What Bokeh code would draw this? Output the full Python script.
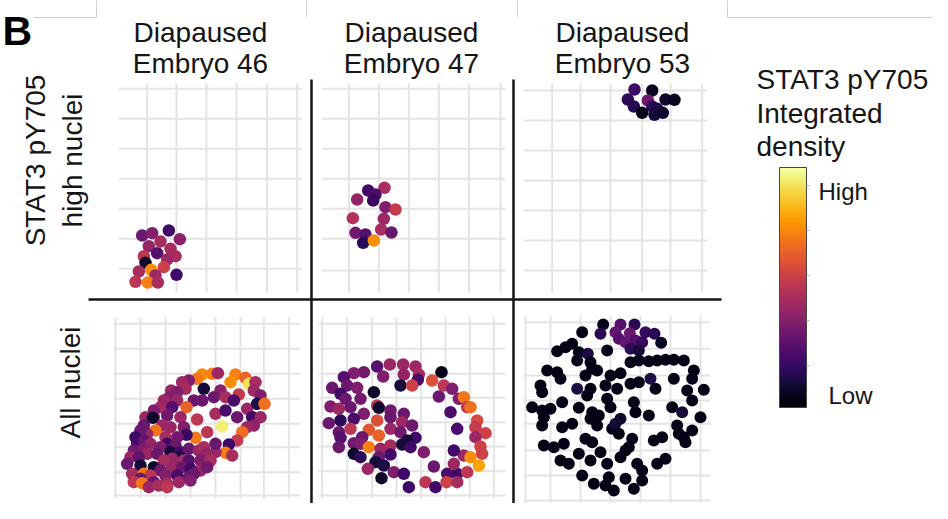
from bokeh.plotting import figure
from bokeh.models import Range1d, LinearColorMapper, ColorBar, FixedTicker, ColumnDataSource
from bokeh.palettes import Inferno256
from bokeh.core.properties import value
from bokeh.embed import file_html
from bokeh.resources import INLINE
import math

# ---------------- data (nucleus centroid positions in image coords, y down; v = normalised intensity) -------------
E46_HIGH = [(125,465,.30),(155,458,.36),(205,450,.20),(238,476,.38),(180,483,.45),(145,497,.40),(210,505,.45),
            (170,518,.25),(225,527,.45),(130,527,.50),(200,537,.42),(135,547,.08),(190,560,.55),(152,568,.75),
            (115,573,.45),(228,583,.20),(165,585,.42),(105,604,.50),(142,606,.72),(172,606,.45)]

E47_HIGH = [(173,330,.20),(222,322,.45),(195,342,.22),(140,357,.40),(188,360,.18),(225,380,.35),(255,387,.52),
            (127,413,.48),(220,415,.42),(212,447,.45),(243,456,.30),(135,457,.32),(165,462,.25),(158,487,.15),
            (190,480,.75)]

E53_HIGH = [(372,27,.20),(425,30,.06),(352,57,.15),(412,60,.32),(465,57,.08),(492,58,.06),(370,78,.14),
            (425,78,.16),(440,85,.12),(395,97,.05),(432,103,.10),(457,97,.08)]

E46_ALL = [(305,222,.75),(335,220,.72),(352,218,.42),(405,222,.72),(435,232,.65),(390,245,.75),(445,250,.92),
           (465,245,.45),(290,235,.70),(265,240,.35),(245,245,.42),(310,265,.10),(255,265,.45),(360,270,.38),
           (415,282,.52),(340,290,.30),(375,290,.45),(460,270,.42),(480,285,.35),(212,270,.42),(230,275,.35),
           (205,292,.35),(230,300,.42),(280,300,.30),(258,320,.65),(305,300,.30),(400,300,.22),(440,325,.42),
           (470,310,.12),(492,310,.68),(180,320,.45),(190,300,.42),(215,320,.25),(160,330,.35),(135,350,.42),
           (160,350,.42),(157,352,.08),(200,345,.32),(240,350,.42),(290,357,.50),(345,340,.45),(375,330,.22),
           (410,350,.30),(455,350,.20),(480,350,.42),(460,375,.38),(440,380,.42),(365,378,.95),(320,395,.50),
           (425,395,.68),(410,420,.52),(385,432,.20),(375,457,.72),(345,455,.42),(395,465,.45),(285,412,.70),
           (250,380,.35),(210,380,.42),(258,403,.18),(230,410,.32),(185,375,.42),(165,390,.70),(140,400,.42),
           (130,375,.30),(120,390,.30),(105,410,.20),(110,430,.20),(130,420,.28),(150,430,.40),(195,410,.45),
           (200,430,.20),(225,435,.30),(180,440,.35),(130,445,.35),(100,450,.32),(140,460,.42),(170,460,.30),
           (210,455,.10),(240,455,.20),(265,445,.30),(295,450,.42),(310,440,.45),(345,430,.30),(320,460,.40),
           (90,470,.42),(115,470,.28),(235,470,.12),(215,475,.42),(190,480,.45),(250,480,.45),(265,480,.25),
           (300,480,.35),(330,480,.45),(80,490,.30),(120,495,.10),(160,500,.08),(180,510,.32),(215,500,.42),
           (245,500,.30),(270,505,.20),(300,510,.40),(320,500,.32),(280,520,.30),(95,520,.45),(130,520,.70),
           (150,525,.50),(195,525,.35),(230,525,.22),(265,530,.30),(120,535,.30),(100,545,.50),(125,548,.70),
           (160,545,.30),(200,550,.45),(235,545,.42),(270,540,.35),(145,560,.42),(175,555,.45),(200,560,.50)]

E47_ALL = [(200,198,.25),(238,192,.42),(278,192,.42),(315,198,.42),(160,215,.32),(130,218,.35),(100,230,.25),
           (218,228,.35),(280,222,.40),(325,222,.45),(322,238,.22),(270,255,.10),(305,255,.55),(365,240,.60),
           (393,215,.05),(400,255,.50),(425,265,.35),(65,262,.30),(110,255,.30),(140,262,.35),(190,275,.08),
           (90,280,.20),(385,288,.30),(445,295,.35),(460,290,.70),(470,320,.50),(480,320,.68),(105,295,.30),
           (150,295,.32),(200,315,.50),(205,322,.08),(120,320,.30),(60,318,.35),(85,325,.42),(420,335,.22),
           (240,330,.32),(280,340,.30),(160,340,.35),(130,355,.22),(90,360,.15),(55,368,.30),(200,360,.60),
           (240,350,.30),(275,365,.42),(305,375,.30),(175,388,.62),(205,405,.65),(120,385,.50),(85,395,.30),
           (90,412,.25),(155,410,.30),(240,385,.42),(270,395,.32),(315,412,.20),(290,420,.10),(440,385,.22),
           (500,360,.58),(495,380,.52),(525,398,.55),(495,410,.42),(510,438,.55),(130,428,.32),(85,440,.30),
           (150,430,.35),(175,440,.72),(210,445,.42),(240,435,.45),(275,432,.10),(300,440,.20),(340,455,.35),
           (130,460,.08),(150,470,.15),(205,470,.30),(240,462,.20),(195,485,.10),(220,495,.12),(172,505,.42),
           (250,515,.35),(280,520,.20),(213,533,.08),(295,560,.20),(345,545,.50),(375,560,.20),(370,498,.30),
           (410,520,.22),(408,545,.55),(440,520,.20),(430,490,.42),(470,515,.50),(460,465,.42),(430,450,.20),
           (480,470,.75),(515,460,.55),(505,495,.80),(440,545,.45)]

E53_ALL = [(278,72,.05),(330,72,.25),(372,72,.15),(215,95,.04),(270,100,.15),(315,95,.28),(358,98,.30),
           (405,95,.18),(432,100,.15),(325,115,.25),(345,125,.28),(375,120,.25),(395,125,.18),(452,127,.06),
           (185,130,.04),(165,140,.04),(140,152,.04),(205,155,.04),(232,160,.12),(290,150,.04),(360,145,.15),
           (385,150,.10),(200,180,.04),(240,185,.04),(360,185,.04),(385,180,.05),(415,182,.05),(440,180,.04),
           (465,178,.05),(490,178,.04),(520,180,.05),(110,210,.04),(140,215,.04),(150,235,.05),(245,205,.04),
           (260,210,.04),(225,225,.04),(330,218,.04),(300,225,.04),(385,245,.04),(420,235,.12),(360,250,.04),
           (435,265,.04),(490,235,.04),(550,210,.04),(545,235,.05),(90,255,.04),(95,275,.04),(240,265,.04),
           (230,285,.04),(200,265,.12),(285,255,.04),(320,265,.04),(530,270,.04),(580,268,.04),(65,320,.04),
           (95,330,.04),(120,325,.04),(155,305,.04),(205,322,.04),(290,295,.04),(300,320,.04),(245,335,.04),
           (265,345,.04),(370,305,.04),(375,335,.04),(415,345,.04),(485,320,.04),(515,335,.10),(545,300,.04),
           (570,350,.04),(100,350,.04),(95,375,.04),(155,380,.04),(185,370,.04),(240,355,.04),(260,375,.04),
           (305,385,.04),(315,370,.10),(330,355,.08),(325,400,.04),(500,375,.04),(505,400,.04),(520,410,.04),
           (545,390,.04),(525,425,.04),(100,435,.04),(130,440,.04),(160,430,.04),(225,415,.04),(245,425,.04),
           (365,415,.04),(355,440,.04),(430,420,.04),(455,410,.04),(150,480,.04),(175,490,.04),(205,460,.04),
           (240,480,.04),(270,455,.04),(290,490,.04),(330,470,.04),(345,450,.04),(380,490,.04),(395,510,.04),
           (440,490,.04),(465,475,.04),(215,525,.04),(250,550,.04),(295,530,.04),(285,555,.04),(310,570,.04),
           (345,535,.04),(370,565,.04),(395,540,.04)]

COL_TITLES = ["Embryo 46", "Embryo 47", "Embryo 53"]
ROW_TITLES = [["STAT3 pY705", "high nuclei"], ["All nuclei"]]
LEGEND_TITLE = ["STAT3 pY705", "Integrated", "density"]
CB_TICKS = [0.175, 0.3625, 0.55, 0.7375, 0.925]

# ---------------- layout (pixels of the picture) ----------------
FONT = "Liberation Sans"
INK = "#151515"
GRID = "#e4e4e4"
K = 3.0  # data units per pixel

PANELS = [
    dict(data=E46_HIGH, ox=100, oy=80, xext=(55, 605), yext=(9, 636),
         vx=[140, 228, 318, 408, 500, 590], hy=[25, 115, 205, 295, 385, 475, 565], size=12.5),
    dict(data=E47_HIGH, ox=310, oy=80, xext=(35, 585), yext=(9, 636),
         vx=[115, 205, 295, 385, 475, 570], hy=[25, 115, 205, 295, 385, 475, 570], size=12.5),
    dict(data=E53_HIGH, ox=510, oy=80, xext=(40, 590), yext=(9, 636),
         vx=[125, 210, 300, 395, 480, 575], hy=[30, 120, 210, 300, 390, 480, 570], size=12.5),
    dict(data=E46_ALL, ox=100, oy=300, xext=(40, 600), yext=(50, 595),
         vx=[45, 120, 195, 270, 345, 420, 490, 565], hy=[70, 145, 220, 295, 370, 440, 515, 585], size=12.5),
    dict(data=E47_ALL, ox=310, oy=300, xext=(25, 585), yext=(50, 595),
         vx=[35, 110, 185, 258, 332, 405, 478, 550], hy=[70, 145, 220, 292, 365, 438, 512, 585], size=12.5),
    dict(data=E53_ALL, ox=510, oy=300, xext=(40, 600), yext=(45, 610),
         vx=[45, 120, 210, 300, 390, 480, 570], hy=[65, 145, 225, 300, 370, 450, 525, 600], size=12),
]

L, R, T, B = 0, 932, 0, 503
p = figure(width=R - L, height=B - T, x_range=Range1d(L, R), y_range=Range1d(B, T),
           output_backend="svg", toolbar_location=None, min_border=0,
           x_axis_location=None, y_axis_location=None)
p.grid.visible = False
p.outline_line_color = None
p.background_fill_color = "white"

mapper = LinearColorMapper(palette=Inferno256, low=0, high=1)

for i, cfg in enumerate(PANELS):
    xn, yn = f"px{i}", f"py{i}"
    p.extra_x_ranges[xn] = Range1d((L - cfg["ox"]) * K, (R - cfg["ox"]) * K)
    p.extra_y_ranges[yn] = Range1d((B - cfg["oy"]) * K, (T - cfg["oy"]) * K)
    x0, x1 = cfg["xext"]
    y0, y1 = cfg["yext"]
    vx, hy = cfg["vx"], cfg["hy"]
    p.segment(x0=vx, x1=vx, y0=[y0] * len(vx), y1=[y1] * len(vx),
              line_color=GRID, line_width=2, x_range_name=xn, y_range_name=yn)
    p.segment(x0=[x0] * len(hy), x1=[x1] * len(hy), y0=hy, y1=hy,
              line_color=GRID, line_width=2, x_range_name=xn, y_range_name=yn)
    xs, ys, vs = zip(*cfg["data"])
    src = ColumnDataSource(dict(x=list(xs), y=list(ys), v=list(vs)))
    p.scatter("x", "y", source=src, size=cfg["size"], marker="circle",
              fill_color={"field": "v", "transform": mapper}, line_color=None,
              x_range_name=xn, y_range_name=yn)

# separators
p.segment(x0=[311, 513, 88], x1=[311, 513, 721], y0=[79, 79, 299], y1=[B, B, 299],
          line_color=INK, line_width=2.5)

# faint frame remnants at the top edge
p.line(x=[33, 96, 96], y=[17, 17, T], line_color="#cfcfcf", line_width=1)
p.segment(x0=[306, 517], x1=[306, 517], y0=[T, T], y1=[17, 17], line_color="#d5d5d5", line_width=1)
p.line(x=[727, 727, R], y=[T, 17, 17], line_color="#cfcfcf", line_width=1)


def txt(xs, ys, texts, size, align="left", angle=0.0, style="normal", color=INK):
    p.text(x=xs, y=ys, text=texts, text_font=value(FONT), text_font_size=value(size),
           text_align=align, text_baseline="alphabetic", angle=angle,
           text_font_style=style, text_color=color)


txt([2], [30], ["B"], "41px", style="bold", color="#000000")
cx = [200, 411, 622]
txt(cx, [32] * 3, ["Diapaused"] * 3, "28px", align="center")
txt(cx, [63] * 3, COL_TITLES, "28px", align="center")
txt([35, 72], [160, 160], ROW_TITLES[0], "28px", align="center", angle=math.pi / 2)
txt([70], [382], ROW_TITLES[1], "28px", align="center", angle=math.pi / 2)
txt([756] * 3, [79, 113, 146], LEGEND_TITLE, "28px")
txt([818, 828], [191, 395], ["High", "Low"], "24px")

cb = ColorBar(color_mapper=mapper, location=(779, B - 407), orientation="vertical",
              width=27, height=240, padding=0, margin=0,
              ticker=FixedTicker(ticks=CB_TICKS), major_label_text_font_size="1px",
              major_label_text_alpha=0, major_tick_in=0, major_tick_out=3,
              major_tick_line_color="#b0b0b0", bar_line_color="#444444", bar_line_width=1,
              border_line_color=None, background_fill_alpha=0)
p.add_layout(cb)

open("out.html", "w").write(file_html(p, INLINE))
